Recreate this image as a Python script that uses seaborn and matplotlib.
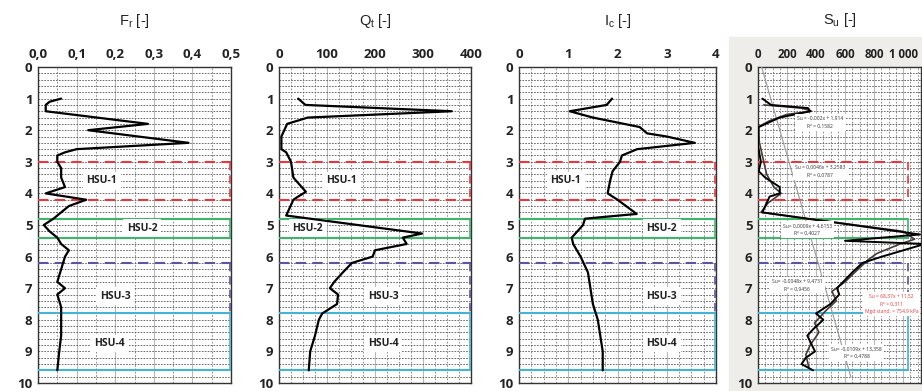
import numpy as np
import pandas as pd
import matplotlib.pyplot as plt
import matplotlib.patches as mpatches
from matplotlib.ticker import MultipleLocator
import seaborn as sns

sns.set_theme(style="white")
plt.rcParams['font.family'] = ['Open Sans', 'DejaVu Sans']
plt.rcParams['mathtext.default'] = 'regular'

# --- donnees ---
fr_depth = [1.0, 1.1, 1.2, 1.4, 1.8, 2.0, 2.2, 2.4, 2.6, 2.7, 2.8, 3.0, 3.2, 3.5, 3.8, 4.0,
            4.2, 4.4, 4.6, 4.8, 5.0, 5.2, 5.4, 5.6, 5.8, 6.0, 6.4, 6.8, 7.0, 7.2, 7.6, 8.0,
            8.5, 9.0, 9.6]
fr_vals = [0.06, 0.03, 0.02, 0.02, 0.285, 0.13, 0.26, 0.39, 0.10, 0.07, 0.05, 0.05, 0.06,
           0.06, 0.07, 0.02, 0.125, 0.08, 0.06, 0.04, 0.015, 0.03, 0.05, 0.06, 0.08, 0.07,
           0.06, 0.05, 0.07, 0.05, 0.06, 0.06, 0.06, 0.055, 0.05]

qt_depth = [1.0, 1.2, 1.4, 1.6, 1.8, 2.2, 2.6, 2.7, 3.0, 3.5, 3.95, 4.1, 4.2, 4.7, 5.27,
            5.4, 5.6, 5.8, 6.0, 6.2, 6.5, 6.8, 7.0, 7.2, 7.5, 7.8, 8.0, 8.5, 9.0, 9.6]
qt_vals = [40, 55, 360, 60, 17, 5, 5, 15, 25, 30, 56, 40, 30, 15, 298, 258, 266, 200, 195,
           152, 133, 115, 106, 123, 121, 90, 83, 75, 65, 62]

ic_depth = [1.0, 1.2, 1.4, 1.6, 1.9, 2.1, 2.2, 2.4, 2.6, 2.8, 3.0, 3.3, 3.6, 4.0, 4.2,
            4.65, 4.8, 5.0, 5.4, 5.6, 6.0, 6.5, 7.0, 7.5, 8.0, 8.5, 9.0, 9.6]
ic_vals = [1.89, 1.78, 1.03, 1.5, 2.45, 2.6, 3.0, 3.57, 2.4, 2.09, 2.05, 1.9, 1.85, 1.8,
           2.0, 2.39, 1.34, 1.3, 1.07, 1.1, 1.25, 1.4, 1.45, 1.5, 1.6, 1.65, 1.7, 1.7]

su_depth = [1.0, 1.2, 1.3, 1.4, 1.6, 1.9, 2.5, 3.0, 3.3, 3.5, 3.8, 4.0, 4.1, 4.6, 5.3,
            5.5, 5.6, 6.0, 6.2, 6.5, 7.0, 7.2, 7.5, 7.8, 8.0, 8.3, 8.5, 9.0, 9.2, 9.4, 9.6]
su_vals = [30, 90, 345, 360, 150, 5, 0, 20, 5, 50, 150, 150, 80, 30, 1117, 600, 1150, 855,
           720, 650, 545, 560, 500, 400, 450, 380, 340, 393, 330, 300, 380]
su2_depth = [1.2, 1.3, 1.4, 1.5, 1.7, 1.9, 2.4, 3.0, 3.4, 3.8, 4.0, 4.3, 4.6, 5.2, 5.45,
             5.6, 5.9, 6.1, 6.4, 6.8, 7.1, 7.4, 7.7, 8.1, 8.4, 8.8, 9.1, 9.5]
su2_vals = [40, 300, 370, 200, 80, 0, 10, 40, 60, 110, 160, 70, 20, 1000, 1080, 980, 820,
            760, 690, 600, 510, 540, 470, 390, 420, 360, 330, 350]
reg_depth = [0.0, 9.8]
reg_vals = [25, 640]

titles = ['F$_r$ [-]', 'Q$_t$ [-]', 'I$_c$ [-]', 'S$_u$ [-]']
xlims = [(0, 0.5), (0, 400), (0, 4), (0, 1124)]
xticks = [[0, 0.1, 0.2, 0.3, 0.4, 0.5], [0, 100, 200, 300, 400], [0, 1, 2, 3, 4],
          [0, 200, 400, 600, 800, 1000]]
xticklabels = [['0,0', '0,1', '0,2', '0,3', '0,4', '0,5'], ['0', '100', '200', '300', '400'],
               ['0', '1', '2', '3', '4'], ['0', '200', '400', '600', '800', '1 000']]
minor_x = [0.05, 25, 0.25, 50]

hsu_labels = ['HSU-1', 'HSU-2', 'HSU-3', 'HSU-4']
hsu_y = [3.6, 5.1, 7.25, 8.75]
hsu_x = [[0.165, 0.27, 0.2, 0.185], [130, 60, 217, 217], [0.95, 2.9, 2.9, 2.9]]

W, H = 922, 391
fig = plt.figure(figsize=(W / 100, H / 100), dpi=100)
bg = mpatches.Rectangle((729 / W, 0), (W - 729) / W, 1 - 37 / H,
                        transform=fig.transFigure, color='#efedea', zorder=-5)
fig.patches.append(bg)

boxes = [(38, 231), (279, 471), (519, 716), (758, 921)]
top_px, bot_px = 67, 383
axes = []
for (l, r) in boxes:
    ax = fig.add_axes([l / W, 1 - bot_px / H, (r - l) / W, (bot_px - top_px) / H])
    ax.set_zorder(2)
    axes.append(ax)

series = [(fr_vals, fr_depth), (qt_vals, qt_depth), (ic_vals, ic_depth)]

red, green, purple, cyan = '#e8383d', '#3cb66a', '#5a55a0', '#45b4d2'

for i, ax in enumerate(axes):
    ax.set_facecolor('white')
    ax.set_xlim(*xlims[i])
    ax.set_ylim(10, 0)
    ax.xaxis.tick_top()
    ax.set_xticks(xticks[i])
    ax.set_xticklabels(xticklabels[i])
    ax.set_yticks(range(0, 11))
    ax.xaxis.set_minor_locator(MultipleLocator(minor_x[i]))
    ax.yaxis.set_minor_locator(MultipleLocator(0.2))
    ax.tick_params(which='both', length=0, pad=4, labelsize=9.5)
    if i == 3:
        ax.tick_params(axis='x', labelsize=8.3)
    for lab in ax.get_xticklabels() + ax.get_yticklabels():
        lab.set_fontweight('bold')
        lab.set_color('#222222')
    ax.grid(which='major', axis='x', color='#b8b8b8', lw=0.8, ls='-')
    ax.grid(which='minor', axis='x', color='#7a7a7a', lw=0.6, ls=(0, (2, 2)))
    ax.grid(which='both', axis='y', color='#555555', lw=0.6, ls=(0, (2, 1.5)))
    for sp in ax.spines.values():
        sp.set_color('#333333')
        sp.set_linewidth(1.0)
    ax.set_title(titles[i], fontsize=10.5, pad=30 if i < 3 else 31, color='#222222',
                 family=['Liberation Sans', 'DejaVu Sans'])

    xr = 1.0 if i < 3 else (908 - 758) / (921 - 758)
    # zones HSU
    kw = dict(xmin=0, xmax=xr, zorder=3)
    ax.axhline(3.0, color=red, lw=1.5, ls=(0, (5, 3)), **kw)
    ax.axhline(4.2, color=red, lw=1.5, ls=(0, (5, 3)), **kw)
    ax.axhline(4.8, color=green, lw=1.5, **kw)
    ax.axhline(5.4, color=green, lw=1.5, **kw)
    ax.axhline(6.2, color=purple, lw=1.5, ls=(0, (5, 3)), **kw)
    ax.axhline(7.8, color=cyan, lw=1.5, **kw)
    ax.axhline(9.6, color=cyan, lw=1.5, **kw)
    xv = xlims[i][0] + xr * (xlims[i][1] - xlims[i][0]) - (0.004 * xlims[i][1] if i < 3 else 0)
    ax.vlines(xv, 3.0, 4.2, color=red, lw=1.2, ls=(0, (5, 3)), zorder=3)
    ax.vlines(xv, 4.8, 5.4, color=green, lw=1.2, zorder=3)
    ax.vlines(xv, 6.2, 7.8, color=purple, lw=1.2, ls=(0, (5, 3)), zorder=3)
    ax.vlines(xv, 7.8, 9.6, color=cyan, lw=1.2, zorder=3)

    if i < 3:
        xs, ys = series[i]
        sns.lineplot(x=xs, y=ys, sort=False, estimator=None, ax=ax, color='black', lw=1.6,
                     zorder=5)
        for k in range(4):
            ax.text(hsu_x[i][k], hsu_y[k], hsu_labels[k], fontsize=7.5, fontweight='bold',
                    ha='center', va='center', color='#222222', zorder=4,
                    bbox=dict(facecolor='white', edgecolor='none', pad=2.5))
    else:
        sns.lineplot(x=reg_vals, y=reg_depth, sort=False, estimator=None, ax=ax,
                     color='#9a9a9a', lw=0.8, zorder=4)
        sns.lineplot(x=su2_vals, y=su2_depth, sort=False, estimator=None, ax=ax,
                     color='#4a3a35', lw=1.2, zorder=5)
        sns.lineplot(x=su_vals, y=su_depth, sort=False, estimator=None, ax=ax,
                     color='black', lw=1.4, zorder=5)
        eqs = [(430, 1.75, 'Su = -0,002x + 1,914\nR² = 0,1582', '#333333'),
               (430, 3.3, 'Su = 0,0046x + 3,2583\nR² = 0,0787', '#333333'),
               (340, 5.15, 'Su= 0,0009x + 4,6153\nR² = 0,4027', '#333333'),
               (270, 6.9, 'Su= -0,0048x + 9,4731\nR² = 0,9456', '#333333'),
               (920, 7.5, 'Su = 68,37x + 11,52\nR² = 0,311\nMgd stand. = 754,9 kPa', red),
               (680, 9.05, 'Su= -0,0109x + 13,358\nR² = 0,4788', '#333333')]
        for (ex, ey, et, ec) in eqs:
            ax.text(ex, ey, et, fontsize=3.6, ha='center', va='center', color=ec,
                    linespacing=1.6, zorder=6,
                    bbox=dict(facecolor='white', edgecolor='none', pad=1.5))

plt.savefig('out.png', dpi=100)
